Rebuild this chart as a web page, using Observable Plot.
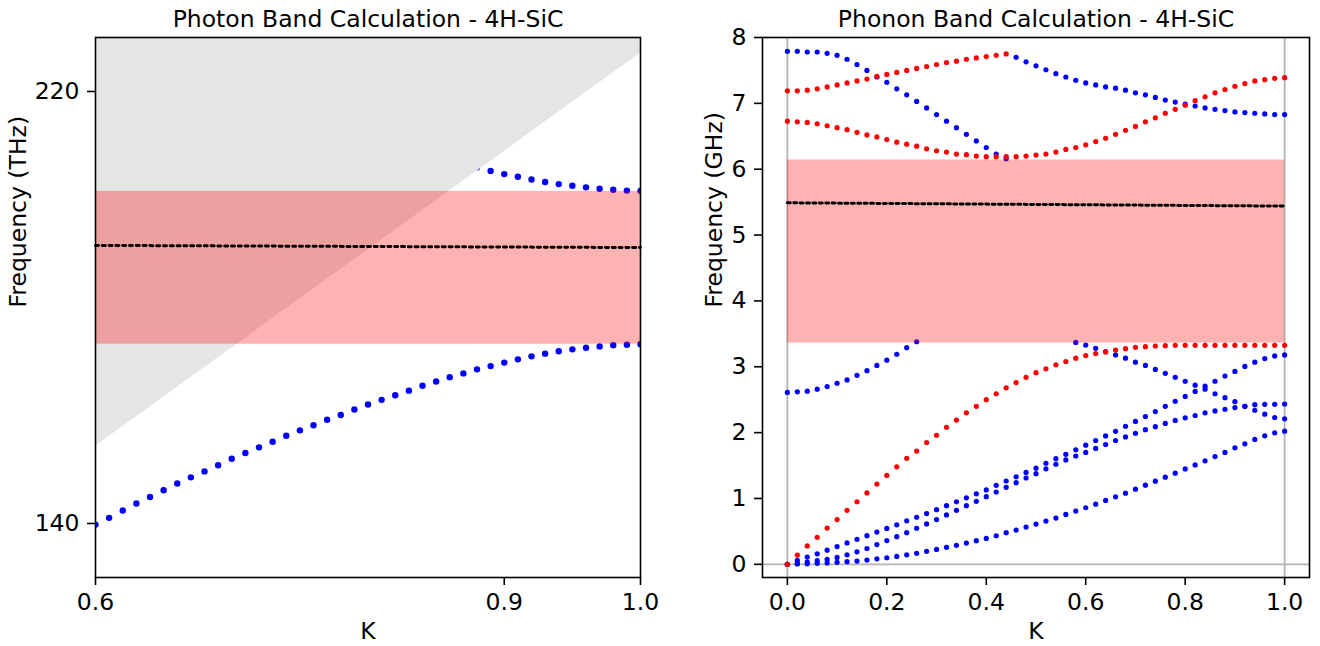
<!DOCTYPE html>
<html><head><meta charset="utf-8">
<script src="https://cdn.jsdelivr.net/npm/d3@7"></script>
<script src="https://cdn.jsdelivr.net/npm/@observablehq/plot@0.6"></script>
<style>
html,body{margin:0;padding:0;background:#fff;}
#wrap{position:relative;width:1320px;height:646px;overflow:hidden;background:#fff;}
#left,#right{position:absolute;top:0;}
#left{left:0;} #right{left:660px;}
</style></head>
<body><div id="wrap"><div id="left"></div><div id="right"></div></div>
<script>
// ---------- Photon panel data ----------
const photonTitle = "Photon Band Calculation - 4H-SiC";
const photonYLabel = "Frequency (THz)";
const photonK = [0.60,0.61,0.62,0.63,0.64,0.65,0.66,0.67,0.68,0.69,0.70,0.71,0.72,0.73,0.74,0.75,0.76,0.77,0.78,0.79,0.80,0.81,0.82,0.83,0.84,0.85,0.86,0.87,0.88,0.89,0.90,0.91,0.92,0.93,0.94,0.95,0.96,0.97,0.98,0.99,1.00];
const photonLower = [139.8,141.05,142.4,143.7,144.9,146.15,147.4,148.55,149.65,150.8,152.0,153.05,154.1,155.15,156.25,157.25,158.2,159.2,160.1,161.1,162.05,162.9,163.75,164.6,165.5,166.3,167.1,167.8,168.55,169.15,169.8,170.4,170.95,171.45,171.9,172.25,172.55,172.8,173.0,173.1,173.2];
const photonUpperK = [0.88,0.89,0.90,0.91,0.92,0.93,0.94,0.95,0.96,0.97,0.98,0.99,1.00];
const photonUpper = [205.97,205.3,204.7,204.2,203.7,203.25,202.85,202.55,202.25,202.0,201.8,201.65,201.6];
const lightConeK = [0.6, 1.0];
const lightConeF = [154.3, 227.1];
const photonGap = [173.2, 201.5];
const photonMidK = [0.6, 1.0];
const photonMidF = [191.5, 191.1];
const photonXDomain = [0.6, 1.0];
const photonYDomain = [130, 230];
const photonXTicks = [0.6, 0.9, 1.0];
const photonYTicks = [140, 220];

// ---------- Phonon panel data ----------
const phononTitle = "Phonon Band Calculation - 4H-SiC";
const phononYLabel = "Frequency (GHz)";
const phononK = [0,0.02,0.04,0.06,0.08,0.10,0.12,0.14,0.16,0.18,0.20,0.22,0.24,0.26,0.28,0.30,0.32,0.34,0.36,0.38,0.40,0.42,0.44,0.46,0.48,0.50,0.52,0.54,0.56,0.58,0.60,0.62,0.64,0.66,0.68,0.70,0.72,0.74,0.76,0.78,0.80,0.82,0.84,0.86,0.88,0.90,0.92,0.94,0.96,0.98,1.00];
// blue branches (start index into phononK, values)
const blueA = [7.79,7.79,7.78,7.78,7.76,7.73,7.67,7.59,7.50,7.40,7.32,7.22,7.13,7.03,6.93,6.83,6.73,6.63,6.53,6.43,6.33,6.23,6.16];
const blueAStart = 0;
const blueC = [7.70,7.63,7.57,7.51,7.45,7.40,7.35,7.31,7.28,7.25,7.23,7.20,7.16,7.13,7.09,7.05,7.02,6.99,6.96,6.93,6.91,6.89,6.87,6.86,6.85,6.84,6.83,6.83];
const blueCStart = 23;
const blueE = [2.61,2.62,2.63,2.66,2.70,2.75,2.80,2.87,2.94,3.02,3.10,3.19,3.29,3.38];
const blueEStart = 0;
const blueG = [3.37,3.33,3.28,3.23,3.18,3.13,3.07,3.02,2.96,2.90,2.84,2.78,2.72,2.66,2.59,2.53,2.47,2.40,2.34,2.28,2.23,2.21];
const blueGStart = 29;
const blueH = [0,0.06,0.11,0.16,0.215,0.27,0.325,0.38,0.435,0.49,0.545,0.60,0.66,0.715,0.77,0.83,0.89,0.95,1.01,1.07,1.13,1.20,1.265,1.33,1.395,1.46,1.535,1.605,1.67,1.74,1.81,1.88,1.95,2.02,2.095,2.17,2.245,2.32,2.40,2.475,2.55,2.625,2.705,2.78,2.86,2.93,3.005,3.07,3.125,3.165,3.18];
const blueI = [0,0.015,0.035,0.055,0.075,0.105,0.145,0.19,0.24,0.30,0.36,0.42,0.48,0.548,0.614,0.68,0.75,0.82,0.89,0.957,1.028,1.098,1.169,1.24,1.311,1.376,1.45,1.52,1.585,1.645,1.70,1.76,1.82,1.88,1.935,1.99,2.045,2.09,2.14,2.185,2.225,2.26,2.30,2.33,2.355,2.38,2.40,2.425,2.43,2.43,2.435];
const blueJ = [0,0.005,0.008,0.015,0.022,0.03,0.04,0.05,0.065,0.083,0.10,0.12,0.145,0.167,0.197,0.227,0.258,0.288,0.323,0.359,0.394,0.434,0.48,0.52,0.566,0.611,0.657,0.702,0.758,0.808,0.859,0.914,0.97,1.025,1.081,1.141,1.202,1.263,1.323,1.384,1.449,1.51,1.571,1.636,1.70,1.77,1.83,1.896,1.952,1.997,2.022];
// red branches
const redB = [7.19,7.19,7.20,7.22,7.25,7.28,7.31,7.34,7.37,7.41,7.44,7.47,7.50,7.53,7.56,7.59,7.62,7.64,7.67,7.69,7.71,7.73,7.75];
const redBStart = 0;
const redD = [6.73,6.72,6.71,6.69,6.66,6.63,6.60,6.56,6.52,6.49,6.45,6.41,6.38,6.35,6.31,6.28,6.26,6.23,6.22,6.20,6.19,6.19,6.19,6.19,6.20,6.215,6.23,6.26,6.30,6.33,6.37,6.42,6.47,6.53,6.59,6.65,6.72,6.78,6.85,6.91,6.97,7.04,7.10,7.16,7.21,7.26,7.30,7.34,7.36,7.38,7.39];
const redF = [0,0.14,0.28,0.41,0.55,0.68,0.82,0.95,1.085,1.22,1.35,1.48,1.61,1.72,1.85,1.96,2.08,2.19,2.30,2.40,2.50,2.59,2.68,2.76,2.84,2.91,2.97,3.03,3.08,3.13,3.17,3.20,3.225,3.255,3.275,3.295,3.305,3.315,3.32,3.325,3.325,3.325,3.325,3.325,3.325,3.325,3.325,3.325,3.325,3.325,3.325];
const phononGap = [3.36, 6.14];
const phononGapK = [0, 1];
const phononMidK = [0, 1];
const phononMidF = [5.49, 5.44];
const phononRefK = [0, 1];
const phononRefF = [0];
const phononXDomain = [-0.05, 1.05];
const phononYDomain = [-0.2, 8];
const phononXTicks = [0, 0.2, 0.4, 0.6, 0.8, 1.0];
const phononYTicks = [0, 1, 2, 3, 4, 5, 6, 7, 8];
const xLabel = "K";

// ---------- helpers ----------
const FONT = "DejaVu Sans";
const FS = 23.5;
const rowsFrom = (ks, vals, start = 0) => vals.map((f, i) => ({k: ks[start + i], f}));
const fmt1 = d3.format(".1f");
const fmtInt = d3.format("d");

function decor(title, ylabel, yLabelDx) {
  return [
    Plot.frame({stroke: "black", strokeWidth: 1.6}),
    Plot.text([title], {text: d => d, frameAnchor: "top", lineAnchor: "bottom", dy: -11, fontSize: FS, fill: "black"}),
    Plot.text([xLabel], {text: d => d, frameAnchor: "bottom", lineAnchor: "bottom", dy: 61, fontSize: FS, fill: "black"}),
    Plot.text([ylabel], {text: d => d, frameAnchor: "left", lineAnchor: "bottom", rotate: -90, dx: yLabelDx, fontSize: FS, fill: "black"})
  ];
}

// ---------- Photon plot ----------
const photonLowerRows = rowsFrom(photonK, photonLower);
const photonUpperRows = rowsFrom(photonUpperK, photonUpper);
const lightRows = rowsFrom(lightConeK, lightConeF);
const photonMidRows = rowsFrom(photonMidK, photonMidF);

const left = Plot.plot({
  width: 660, height: 646,
  marginLeft: 95, marginRight: 20, marginTop: 37, marginBottom: 69,
  x: {domain: photonXDomain},
  y: {domain: photonYDomain},
  style: {fontFamily: FONT, fontSize: FS + "px", color: "black", background: "white", overflow: "visible"},
  marks: [
    Plot.dot(photonLowerRows, {x: "k", y: "f", r: 3.2, fill: "blue", clip: true}),
    Plot.dot(photonUpperRows, {x: "k", y: "f", r: 3.2, fill: "blue", clip: true}),
    Plot.areaY(lightRows, {x: "k", y1: "f", y2: photonYDomain[1], fill: "#e5e5e5", clip: true}),
    Plot.rect([photonGap], {x1: photonXDomain[0], x2: photonXDomain[1], y1: d => d[0], y2: d => d[1], fill: "red", fillOpacity: 0.3}),
    Plot.line(photonMidRows, {x: "k", y: "f", stroke: "black", strokeWidth: 3, strokeDasharray: "3,3.8"}),
    Plot.axisX({ticks: photonXTicks, tickFormat: fmt1, tickSize: 8, tickPadding: 8, label: null, strokeWidth: 1.6, fontSize: FS}),
    Plot.axisY({ticks: photonYTicks, tickFormat: fmtInt, tickSize: 8, tickPadding: 8, label: null, strokeWidth: 1.6, fontSize: FS}),
    ...decor(photonTitle, photonYLabel, -70)
  ]
});
document.getElementById("left").appendChild(left);

// ---------- Phonon plot ----------
const blueRows = [
  ...rowsFrom(phononK, blueJ), ...rowsFrom(phononK, blueI), ...rowsFrom(phononK, blueH),
  ...rowsFrom(phononK, blueE, blueEStart), ...rowsFrom(phononK, blueG, blueGStart),
  ...rowsFrom(phononK, blueA, blueAStart), ...rowsFrom(phononK, blueC, blueCStart)
];
const redRows = [
  ...rowsFrom(phononK, redF), ...rowsFrom(phononK, redD), ...rowsFrom(phononK, redB, redBStart)
];
const phononMidRows = rowsFrom(phononMidK, phononMidF);

const right = Plot.plot({
  width: 660, height: 646,
  marginLeft: 102, marginRight: 11, marginTop: 37, marginBottom: 69,
  x: {domain: phononXDomain},
  y: {domain: phononYDomain},
  style: {fontFamily: FONT, fontSize: FS + "px", color: "black", background: "white", overflow: "visible"},
  marks: [
    Plot.ruleX(phononRefK, {stroke: "#b3b3b3", strokeWidth: 1.8}),
    Plot.ruleY(phononRefF, {stroke: "#b3b3b3", strokeWidth: 1.8}),
    Plot.dot(blueRows, {x: "k", y: "f", r: 2.6, fill: "blue"}),
    Plot.dot(redRows, {x: "k", y: "f", r: 2.6, fill: "red"}),
    Plot.rect([phononGap], {x1: phononGapK[0], x2: phononGapK[1], y1: d => d[0], y2: d => d[1], fill: "red", fillOpacity: 0.3}),
    Plot.line(phononMidRows, {x: "k", y: "f", stroke: "black", strokeWidth: 3, strokeDasharray: "3,3.4"}),
    Plot.axisX({ticks: phononXTicks, tickFormat: fmt1, tickSize: 8, tickPadding: 8, label: null, strokeWidth: 1.6, fontSize: FS}),
    Plot.axisY({ticks: phononYTicks, tickFormat: fmtInt, tickSize: 8, tickPadding: 8, label: null, strokeWidth: 1.6, fontSize: FS}),
    ...decor(phononTitle, phononYLabel, -41)
  ]
});
document.getElementById("right").appendChild(right);
</script>
</body></html>
